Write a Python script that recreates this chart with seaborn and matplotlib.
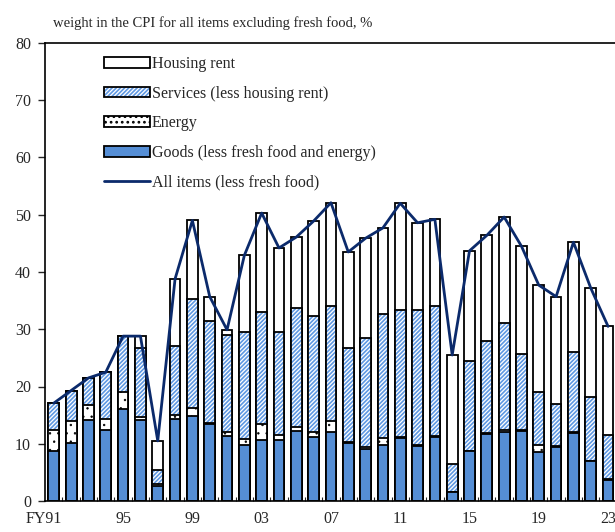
import numpy as np
import pandas as pd
import matplotlib
matplotlib.use('Agg')
import matplotlib.pyplot as plt
import matplotlib.transforms as mtransforms
from matplotlib.patches import Patch
from matplotlib.lines import Line2D
import seaborn as sns

# 数据
years = ['FY91', '92', '93', '94', '95', '96', '97', '98', '99', '00', '01',
         '02', '03', '04', '05', '06', '07', '08', '09', '10', '11', '12',
         '13', '14', '15', '16', '17', '18', '19', '20', '21', '22', '23']
tick_labels = ['FY91', '', '', '', '95', '', '', '', '99', '', '', '', '03', '', '', '', '07',
               '', '', '', '11', '', '', '', '15', '', '', '', '19', '', '', '', '23']
goods = [8.7, 10.1, 14.1, 12.4, 16.0, 14.1, 2.7, 14.3, 14.8, 13.5, 11.4,
         9.8, 10.7, 10.7, 12.2, 11.1, 12.0, 10.2, 9.0, 9.8, 11.0, 9.6,
         11.1, 1.5, 8.7, 11.7, 12.0, 12.3, 8.6, 9.5, 11.8, 6.9, 3.7]
energy = [3.7, 3.8, 2.6, 1.9, 3.1, 0.6, 0.3, 0.8, 1.4, 0.1, 0.7,
          1.0, 2.8, 0.8, 0.7, 0.9, 1.9, 0.1, 0.5, 1.2, 0.1, 0.1,
          0.2, 0.0, 0.1, 0.1, 0.4, 0.1, 1.2, 0.1, 0.3, 0.1, 0.1]
services = [4.7, 5.4, 4.8, 8.2, 9.7, 12.1, 2.5, 12.0, 19.1, 17.8, 16.9,
            18.8, 19.6, 18.1, 20.8, 20.4, 20.1, 16.4, 19.0, 21.7, 22.3, 23.7,
            22.8, 4.9, 15.7, 16.2, 18.7, 13.3, 9.2, 7.4, 13.9, 11.1, 7.7]
rent = [0.0, 0.0, 0.0, 0.0, 0.0, 2.0, 5.0, 11.7, 13.7, 4.3, 0.9,
        13.3, 17.2, 14.6, 12.4, 16.5, 18.1, 16.8, 17.4, 15.0, 18.6, 15.2,
        15.1, 19.1, 19.2, 18.4, 18.5, 18.8, 18.7, 18.7, 19.2, 19.1, 19.0]
all_items = [17.1, 19.3, 21.5, 22.5, 28.8, 28.8, 10.5, 38.8, 49.0, 35.7, 29.9,
             42.9, 50.3, 44.2, 46.1, 48.9, 52.1, 43.5, 45.9, 47.7, 52.0, 48.6,
             49.2, 25.5, 43.7, 46.4, 49.6, 44.5, 37.7, 35.7, 45.2, 37.2, 30.5]

df = pd.DataFrame({'year': years, 'goods': goods, 'energy': energy,
                   'services': services, 'rent': rent})
df['top_goods'] = df['goods']
df['top_energy'] = df['top_goods'] + df['energy']
df['top_services'] = df['top_energy'] + df['services']
df['top_rent'] = df['top_services'] + df['rent']

sns.set_style('ticks')
plt.rcParams['font.family'] = ['Liberation Serif', 'DejaVu Serif']

blue = '#558ED5'
hatch_blue = '#5F98E2'
navy = '#0B2A6B'
lw = 1.3
w = 0.62

fig = plt.figure(figsize=(6.15, 5.32), dpi=100)
ax = fig.add_axes([45 / 615, 1 - 501 / 532, 570 / 615, 458 / 532])

# 堆叠柱：从总高度往下依次覆盖
sns.barplot(data=df, x='year', y='top_rent', color='white', edgecolor='black',
            linewidth=lw, width=w, saturation=1, ax=ax)
plt.rcParams['hatch.linewidth'] = 1.2
n0 = len(ax.patches)
sns.barplot(data=df, x='year', y='top_services', color='white', edgecolor=hatch_blue,
            linewidth=0, width=w, saturation=1, ax=ax)
for p in ax.patches[n0:]:
    p.set_hatch('////////')
sns.barplot(data=df, x='year', y='top_services', color='black', fill=False,
            linewidth=lw, width=w, ax=ax)
plt.rcParams['hatch.linewidth'] = 0.5
n1 = len(ax.patches)
sns.barplot(data=df, x='year', y='top_energy', color='white', edgecolor='black',
            linewidth=lw, width=w, saturation=1, ax=ax)
for p in ax.patches[n1:]:
    p.set_hatch('..')
sns.barplot(data=df, x='year', y='top_goods', color=blue, edgecolor='black',
            linewidth=lw, width=w, saturation=1, ax=ax)

sns.lineplot(x=np.arange(len(years)), y=all_items, color=navy, linewidth=2.0, ax=ax)

ax.set_ylim(0, 80)
ax.set_xlim(-0.51, 32.4)
ax.set_yticks(range(0, 81, 10))
ax.set_xticks(range(len(years)))
ax.set_xticklabels(tick_labels)
ax.set_xticks(np.arange(0.5, len(years) - 1, 1), minor=True)
ax.tick_params(axis='x', which='major', length=0, pad=7, labelsize=11.5)
ax.tick_params(axis='x', which='minor', direction='in', length=3, width=0.8)
ax.tick_params(axis='y', direction='out', length=5, width=1.0, pad=5, labelsize=11.5)
ax.set_xlabel('')
ax.set_ylabel('')
for s in ['left', 'bottom', 'top']:
    ax.spines[s].set_linewidth(1.2)
    ax.spines[s].set_color('black')
ax.spines['right'].set_visible(False)

# FY91 标签：数字对齐柱子中心
lab0 = ax.get_xticklabels()[0]
lab0.set_horizontalalignment('right')
lab0.set_transform(lab0.get_transform() + mtransforms.ScaledTranslation(8 / 100, 0, fig.dpi_scale_trans))

fig.text(53 / 615, 1 - 23 / 532, 'weight in the CPI for all items excluding fresh food, %',
         fontsize=10.5, va='center', ha='left')

plt.rcParams['hatch.linewidth'] = 0.5
energy_handle = Patch(facecolor='white', edgecolor='black', hatch='...', linewidth=lw)
plt.rcParams['hatch.linewidth'] = 1.2
services_handle = (Patch(facecolor='white', edgecolor=hatch_blue, hatch='////////', linewidth=0),
                   Patch(facecolor='none', edgecolor='black', linewidth=lw))
handles = [
    Patch(facecolor='white', edgecolor='black', linewidth=lw),
    services_handle,
    energy_handle,
    Patch(facecolor=blue, edgecolor='black', linewidth=lw),
    Line2D([], [], color=navy, linewidth=2.0),
]
labels = ['Housing rent', 'Services (less housing rent)', 'Energy',
          'Goods (less fresh food and energy)', 'All items (less fresh food)']
ax.legend(handles, labels, loc='upper left', bbox_to_anchor=(0.103, 0.972), frameon=False,
          fontsize=11.5, handlelength=2.9, handleheight=0.65, handletextpad=0.1,
          labelspacing=0.86, borderpad=0, borderaxespad=0)

fig.savefig('out.png', dpi=100)
